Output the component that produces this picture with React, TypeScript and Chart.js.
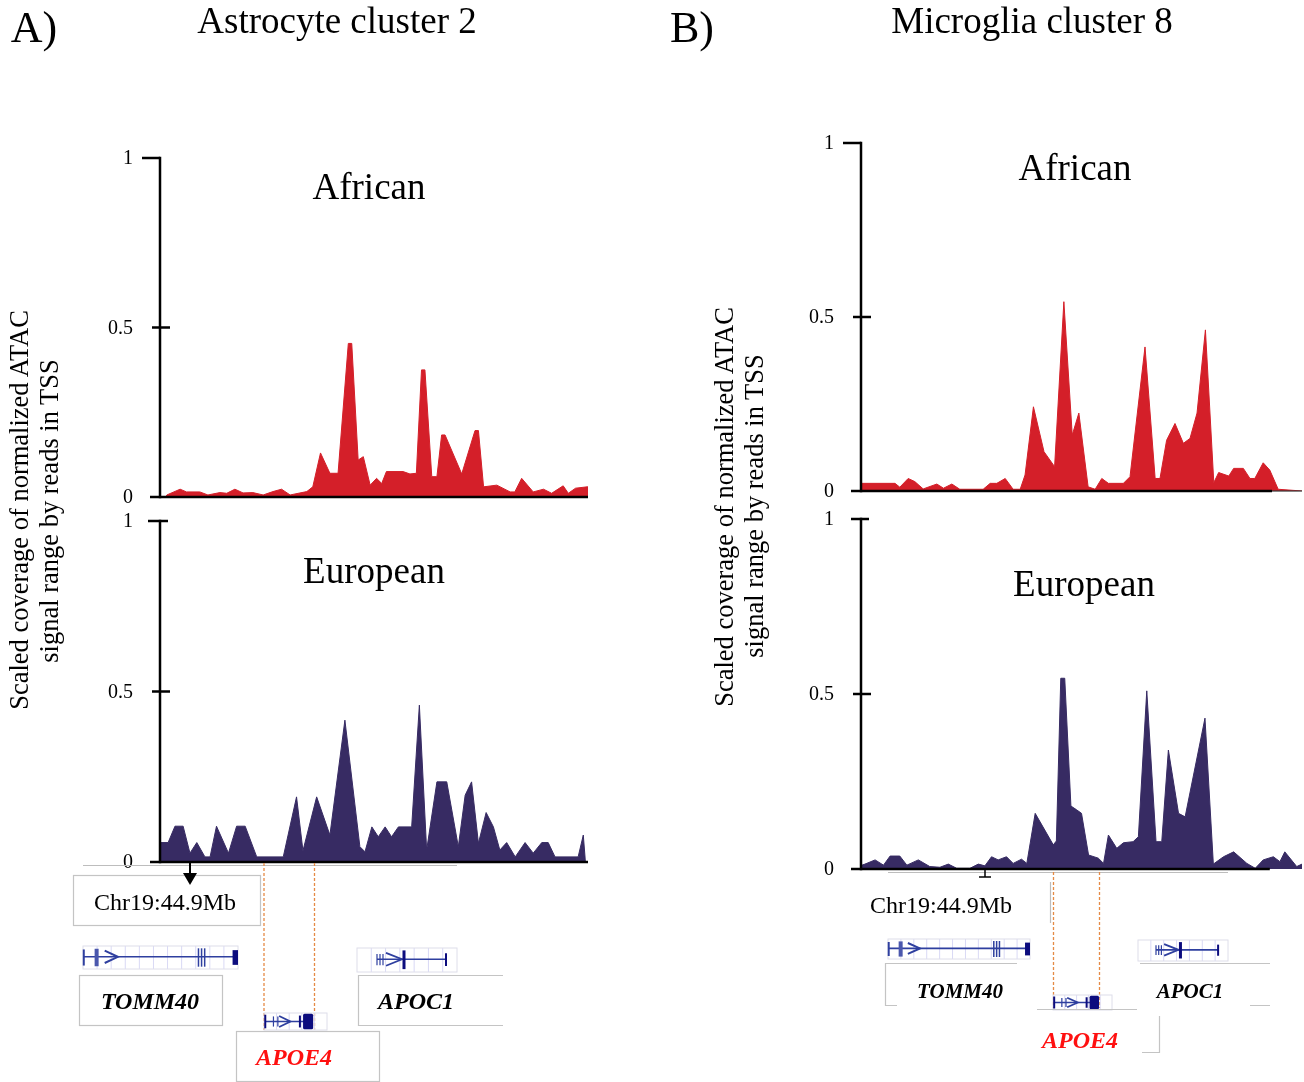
import React, { useEffect, useRef } from "react";
import { Chart, registerables } from "chart.js";
Chart.register(...registerables);

const FONT = '"Liberation Serif", "Times New Roman", serif';

// y axis ticks shared by all tracks
const yTickValues = [0, 0.5, 1];
const yTickLabels = ["0", "0.5", "1"];

// genomic window position (0-100 % of window) and scaled coverage
const astroAfrican: [number, number][] = [
  [1.4, 0], [1.6, 0.006], [4.7, 0.023], [6.2, 0.015], [9.3, 0.015], [11.2, 0.006], [14.0, 0.013],
  [15.6, 0.011], [17.5, 0.023], [19.4, 0.012], [21.7, 0.013], [24.1, 0.006], [26.4, 0.016],
  [28.4, 0.023], [30.4, 0.006], [34.3, 0.016], [35.7, 0.03], [37.5, 0.13], [39.7, 0.07], [41.6, 0.07],
  [44.0, 0.453], [44.8, 0.453], [46.3, 0.109], [47.5, 0.119], [49.1, 0.035], [50.6, 0.055],
  [51.8, 0.04], [52.9, 0.075], [56.8, 0.075], [58.4, 0.068], [59.9, 0.07], [61.1, 0.375],
  [61.9, 0.375], [63.5, 0.06], [64.7, 0.06], [65.8, 0.183], [66.6, 0.183], [70.5, 0.068],
  [73.6, 0.196], [74.4, 0.196], [75.6, 0.03], [78.7, 0.035], [81.8, 0.015], [82.9, 0.015],
  [84.5, 0.055], [87.2, 0.015], [89.6, 0.023], [91.5, 0.011], [94.2, 0.033], [95.4, 0.011],
  [97.1, 0.026], [99.8, 0.03], [100, 0.03],
];

const astroEuropean: [number, number][] = [
  [0.2, 0.057], [1.9, 0.057], [3.5, 0.105], [5.4, 0.105], [7.0, 0.026], [8.6, 0.057], [10.5, 0.015],
  [11.7, 0.015], [13.2, 0.105], [16.0, 0.026], [17.9, 0.105], [19.9, 0.105], [22.6, 0.015],
  [28.8, 0.015], [31.9, 0.191], [33.4, 0.033], [36.6, 0.191], [39.7, 0.079], [43.2, 0.416],
  [46.7, 0.045], [47.9, 0.03], [49.5, 0.103], [51.0, 0.074], [52.6, 0.103], [54.1, 0.074],
  [55.7, 0.103], [58.8, 0.103], [60.6, 0.46], [62.3, 0.035], [64.7, 0.235], [67.0, 0.235],
  [69.7, 0.045], [71.3, 0.196], [72.8, 0.235], [74.4, 0.055], [76.2, 0.145], [77.9, 0.103],
  [79.4, 0.035], [81.0, 0.057], [83.0, 0.015], [85.3, 0.057], [87.2, 0.026], [89.2, 0.057],
  [90.7, 0.057], [92.3, 0.015], [97.7, 0.015], [98.9, 0.079], [99.4, 0],
];

const microAfrican: [number, number][] = [
  [0, 0.022], [7.7, 0.022], [8.8, 0.011], [10.7, 0.036], [12.2, 0.027], [14.1, 0.006], [17.2, 0.02],
  [18.7, 0.008], [20.6, 0.02], [22.4, 0.005], [27.7, 0.005], [29.3, 0.022], [30.8, 0.022],
  [32.7, 0.036], [34.5, 0.005], [36.1, 0.005], [37.2, 0.046], [39.1, 0.242], [41.5, 0.113],
  [43.9, 0.07], [46.0, 0.544], [47.9, 0.161], [49.4, 0.224], [51.5, 0.012], [53.1, 0.005],
  [54.6, 0.036], [56.1, 0.022], [59.5, 0.022], [61.0, 0.041], [64.4, 0.414], [66.7, 0.036],
  [67.8, 0.036], [69.3, 0.146], [71.2, 0.194], [73.1, 0.137], [74.6, 0.151], [76.2, 0.224],
  [78.1, 0.463], [80.0, 0.024], [81.1, 0.053], [83.4, 0.043], [84.5, 0.065], [86.7, 0.065],
  [88.2, 0.036], [89.3, 0.036], [91.2, 0.081], [92.7, 0.06], [94.6, 0.005], [100, 0],
];

const microEuropean: [number, number][] = [
  [0, 0.01], [0.9, 0.014], [3.2, 0.026], [5.1, 0.011], [6.6, 0.037], [8.8, 0.037], [10.4, 0.011],
  [13.0, 0.026], [15.6, 0.007], [17.9, 0.005], [19.8, 0.014], [21.7, 0.002], [24.7, 0.002],
  [26.6, 0.014], [28.1, 0.009], [29.6, 0.035], [31.1, 0.026], [33.0, 0.035], [34.5, 0.016],
  [36.4, 0.028], [37.6, 0.016], [39.5, 0.159], [43.6, 0.069], [44.3, 0.08], [45.3, 0.545],
  [46.2, 0.545], [47.6, 0.18], [48.9, 0.169], [50.0, 0.159], [51.6, 0.04], [53.8, 0.031],
  [55.0, 0.016], [56.1, 0.097], [58.0, 0.059], [59.5, 0.075], [61.7, 0.078], [62.9, 0.092],
  [64.8, 0.509], [66.9, 0.078], [68.2, 0.078], [69.7, 0.34], [72.0, 0.159], [73.5, 0.149],
  [78.0, 0.431], [79.9, 0.014], [82.2, 0.035], [84.5, 0.049], [87.5, 0.016], [89.4, 0.002],
  [91.2, 0.026], [93.5, 0.035], [95.0, 0.021], [96.1, 0.049], [98.8, 0.007], [100, 0.014],
];

const RED = "#d41f29";
const NAVY = "#372b63";

const trackAxesPlugin = {
  id: "trackAxes",
  afterDatasetsDraw(chart: any, _args: any, opts: any) {
    const { ctx } = chart;
    const xs = chart.scales.x;
    const ys = chart.scales.y;
    const x0 = xs.getPixelForValue(0);
    const yb = ys.getPixelForValue(0);
    const yt = ys.getPixelForValue(1);
    ctx.save();
    ctx.strokeStyle = "#000";
    ctx.fillStyle = "#000";
    ctx.lineWidth = 2.5;
    ctx.lineCap = "butt";
    ctx.beginPath();
    ctx.moveTo(x0, yb + 1.2);
    ctx.lineTo(x0, yt - 1.2);
    ctx.stroke();
    // x axis baseline
    ctx.beginPath();
    ctx.moveTo(x0, yb);
    ctx.lineTo(xs.getPixelForValue(opts.axisEnd), yb);
    ctx.stroke();
    if (opts.thinEnd) {
      ctx.lineWidth = 1.2;
      ctx.strokeStyle = "#333";
      ctx.beginPath();
      ctx.moveTo(xs.getPixelForValue(opts.axisEnd), yb);
      ctx.lineTo(xs.getPixelForValue(100), yb);
      ctx.stroke();
      ctx.strokeStyle = "#000";
      ctx.lineWidth = 2.5;
    }
    ctx.font = `20px ${FONT}`;
    ctx.textAlign = "right";
    ctx.textBaseline = "middle";
    yTickValues.forEach((v, i) => {
      const py = ys.getPixelForValue(v);
      ctx.beginPath();
      ctx.moveTo(x0 - opts.tickLeft[i], py);
      ctx.lineTo(x0 + opts.tickRight[i], py);
      ctx.stroke();
      ctx.fillText(yTickLabels[i], x0 - 27, py + 1);
    });
    ctx.restore();
  },
};

interface TrackSpec {
  data: [number, number][];
  color: string;
  left: number;
  top: number;
  width: number;
  height: number;
  pad: { left: number; top: number; right: number; bottom: number };
  tickLeft: number[];
  tickRight: number[];
  axisEnd: number;
  thinEnd: boolean;
}

function Track({ spec }: { spec: TrackSpec }) {
  const ref = useRef<HTMLCanvasElement>(null);
  useEffect(() => {
    if (!ref.current) return;
    const chart = new Chart(ref.current, {
      type: "line",
      data: {
        datasets: [
          {
            data: spec.data.map(([x, y]) => ({ x, y })),
            borderColor: spec.color,
            backgroundColor: spec.color,
            borderWidth: 1,
            pointRadius: 0,
            tension: 0,
            fill: "origin",
          },
        ],
      },
      options: {
        animation: false,
        responsive: false,
        events: [],
        layout: { padding: spec.pad },
        plugins: {
          legend: { display: false },
          tooltip: { enabled: false },
          trackAxes: {
            tickLeft: spec.tickLeft,
            tickRight: spec.tickRight,
            axisEnd: spec.axisEnd,
            thinEnd: spec.thinEnd,
          },
        } as any,
        scales: {
          x: { type: "linear", min: 0, max: 100, display: false },
          y: { type: "linear", min: 0, max: 1, display: false },
        },
      },
      plugins: [trackAxesPlugin],
    });
    return () => chart.destroy();
  }, [spec]);
  return (
    <canvas
      ref={ref}
      width={spec.width}
      height={spec.height}
      style={{ position: "absolute", left: spec.left, top: spec.top, width: spec.width, height: spec.height }}
    />
  );
}

const tracks: TrackSpec[] = [
  {
    data: astroAfrican, color: RED, left: 90, top: 140, width: 510, height: 370,
    pad: { left: 70, top: 18, right: 12, bottom: 13 },
    tickLeft: [10, 8, 18], tickRight: [0, 10, 0], axisEnd: 100, thinEnd: false,
  },
  {
    data: astroEuropean, color: NAVY, left: 90, top: 505, width: 510, height: 370,
    pad: { left: 70, top: 16, right: 12, bottom: 13 },
    tickLeft: [10, 8, 12], tickRight: [0, 10, 8], axisEnd: 100, thinEnd: false,
  },
  {
    data: microAfrican, color: RED, left: 790, top: 125, width: 514, height: 380,
    pad: { left: 71, top: 18, right: 2, bottom: 14 },
    tickLeft: [10, 8, 18], tickRight: [0, 10, 0], axisEnd: 93.2, thinEnd: true,
  },
  {
    data: microEuropean, color: NAVY, left: 790, top: 500, width: 514, height: 385,
    pad: { left: 71, top: 19, right: 2, bottom: 16 },
    tickLeft: [10, 8, 10], tickRight: [0, 10, 8], axisEnd: 92.7, thinEnd: false,
  },
];

function Label({ x, y, size, text, style }: { x: number; y: number; size: number; text: string; style?: any }) {
  return (
    <div
      style={{
        position: "absolute",
        left: x,
        top: y,
        transform: "translate(-50%, -50%)",
        fontSize: size,
        lineHeight: 1,
        whiteSpace: "nowrap",
        fontFamily: FONT,
        color: "#000",
        ...style,
      }}
    >
      {text}
    </div>
  );
}

function VLabel({ x, y, size, text }: { x: number; y: number; size: number; text: string }) {
  return (
    <div
      style={{
        position: "absolute",
        left: x,
        top: y,
        transform: "translate(-50%, -50%) rotate(-90deg)",
        fontSize: size,
        lineHeight: 1,
        whiteSpace: "nowrap",
        fontFamily: FONT,
        color: "#000",
      }}
    >
      {text}
    </div>
  );
}

const STRIPE = "#d9d9f5";
const GLINE = "#2e3f9f";
const GDARK = "#0c0c7e";

function Stripes({ x, y, w, h, n }: { x: number; y: number; w: number; h: number; n: number }) {
  const items = [];
  for (let i = 1; i < n; i++) {
    const sx = x + (i * w) / n;
    items.push(<line key={i} x1={sx} y1={y} x2={sx} y2={y + h} stroke={STRIPE} strokeWidth={1} />);
  }
  return (
    <g>
      {items}
      <rect x={x} y={y} width={w} height={h} fill="none" stroke="#dedeea" strokeWidth={1} />
    </g>
  );
}

function Tomm40Glyph({ x, y, w, h }: { x: number; y: number; w: number; h: number }) {
  const my = y + h * 0.47;
  const X = (f: number) => x + f * w;
  return (
    <g>
      <Stripes x={x} y={y} w={w} h={h} n={11} />
      <line x1={X(0.005)} y1={my} x2={X(0.975)} y2={my} stroke={GLINE} strokeWidth={1.6} />
      <line x1={X(0.005)} y1={y + h * 0.15} x2={X(0.005)} y2={y + h * 0.85} stroke={GLINE} strokeWidth={2} />
      <rect x={X(0.075)} y={y + h * 0.12} width={4} height={h * 0.76} fill="#4a57ad" />
      <polyline points={`${X(0.14)},${y + h * 0.2} ${X(0.225)},${my} ${X(0.14)},${y + h * 0.74}`} fill="none" stroke={GLINE} strokeWidth={2} />
      {[0.745, 0.765, 0.785].map((f) => (
        <line key={f} x1={X(f)} y1={y + h * 0.1} x2={X(f)} y2={y + h * 0.9} stroke={GLINE} strokeWidth={1.5} />
      ))}
      <rect x={X(0.965)} y={y + h * 0.18} width={w * 0.035} height={h * 0.64} fill={GDARK} />
    </g>
  );
}

function Apoe4Glyph({ x, y, w, h }: { x: number; y: number; w: number; h: number }) {
  const my = y + h * 0.5;
  const X = (f: number) => x + f * w;
  return (
    <g>
      <Stripes x={x} y={y} w={w} h={h} n={5} />
      <line x1={X(0.02)} y1={my} x2={X(0.7)} y2={my} stroke={GLINE} strokeWidth={1.6} />
      <line x1={X(0.02)} y1={y + h * 0.1} x2={X(0.02)} y2={y + h * 0.9} stroke={GDARK} strokeWidth={2} />
      {[0.15, 0.22].map((f) => (
        <line key={f} x1={X(f)} y1={y + h * 0.2} x2={X(f)} y2={y + h * 0.8} stroke={GLINE} strokeWidth={1.2} />
      ))}
      <polyline points={`${X(0.24)},${y + h * 0.18} ${X(0.42)},${my} ${X(0.24)},${y + h * 0.82}`} fill="none" stroke={GLINE} strokeWidth={1.8} />
      <line x1={X(0.57)} y1={y + h * 0.15} x2={X(0.57)} y2={y + h * 0.85} stroke={GDARK} strokeWidth={2} />
      <rect x={X(0.62)} y={y + h * 0.05} width={w * 0.16} height={h * 0.9} rx={1.5} fill={GDARK} />
    </g>
  );
}

function Apoc1Glyph({ x, y, w, h }: { x: number; y: number; w: number; h: number }) {
  const my = y + h * 0.47;
  const X = (f: number) => x + f * w;
  return (
    <g>
      <Stripes x={x} y={y} w={w} h={h} n={7} />
      <line x1={X(0.2)} y1={my} x2={X(0.89)} y2={my} stroke={GLINE} strokeWidth={1.6} />
      {[0.2, 0.23, 0.26].map((f) => (
        <line key={f} x1={X(f)} y1={y + h * 0.25} x2={X(f)} y2={y + h * 0.72} stroke={GLINE} strokeWidth={1.2} />
      ))}
      <polyline points={`${X(0.29)},${y + h * 0.2} ${X(0.45)},${my} ${X(0.29)},${y + h * 0.74}`} fill="none" stroke={GLINE} strokeWidth={1.8} />
      <rect x={X(0.455)} y={y + h * 0.1} width={3} height={h * 0.78} fill={GDARK} />
      <line x1={X(0.89)} y1={y + h * 0.22} x2={X(0.89)} y2={y + h * 0.75} stroke={GDARK} strokeWidth={2} />
    </g>
  );
}

const BOX = "#c4c4c4";
const ORANGE = "#e58a45";

function Annotations() {
  return (
    <svg width={1304} height={1082} style={{ position: "absolute", left: 0, top: 0, pointerEvents: "none" }}>
      {/* Panel A gene track */}
      <line x1={83} y1={865.5} x2={457} y2={865.5} stroke="#bdbdbd" strokeWidth={1.2} />
      <rect x={73.5} y={875.5} width={187} height={50} fill="#fff" stroke={BOX} strokeWidth={1.2} />
      <line x1={190} y1={863} x2={190} y2={876} stroke="#000" strokeWidth={2} />
      <polygon points="183,873 197,873 190,885" fill="#000" />
      <line x1={264} y1={863} x2={264} y2={1030} stroke={ORANGE} strokeWidth={1.3} strokeDasharray="3 2" />
      <line x1={314.5} y1={863} x2={314.5} y2={1030} stroke={ORANGE} strokeWidth={1.3} strokeDasharray="3 2" />
      <Tomm40Glyph x={83} y={946} w={155} h={23} />
      <rect x={79.5} y={975.5} width={143} height={50} fill="none" stroke={BOX} strokeWidth={1.2} />
      <Apoc1Glyph x={357} y={948} w={100} h={24} />
      <path d="M503 975.5 H358.5 V1025.5 H503" fill="none" stroke={BOX} strokeWidth={1.2} />
      <Apoe4Glyph x={264} y={1013} w={63} h={17} />
      <rect x={236.5} y={1031.5} width={143} height={50} fill="none" stroke={BOX} strokeWidth={1.2} />

      {/* Panel B gene track */}
      <line x1={888} y1={872.5} x2={1228} y2={872.5} stroke="#bdbdbd" strokeWidth={1.2} />
      <line x1={985} y1={869} x2={985} y2={877} stroke="#000" strokeWidth={1.5} />
      <line x1={979} y1={877} x2={991} y2={877} stroke="#000" strokeWidth={1.5} />
      <line x1={1050.5} y1={882} x2={1050.5} y2={923} stroke="#bdbdbd" strokeWidth={1.2} />
      <line x1={1053.5} y1={872} x2={1053.5} y2={1008} stroke={ORANGE} strokeWidth={1.3} strokeDasharray="3 2" />
      <line x1={1099.5} y1={872} x2={1099.5} y2={1008} stroke={ORANGE} strokeWidth={1.3} strokeDasharray="3 2" />
      <Tomm40Glyph x={888} y={939} w={142} h={20} />
      <path d="M1017 963.5 H885.5 V1005.5 H897" fill="none" stroke={BOX} strokeWidth={1.2} />
      <Apoc1Glyph x={1138} y={940} w={90} h={21} />
      <path d="M1140 963.5 H1270 M1250 1005.5 H1270" fill="none" stroke={BOX} strokeWidth={1.2} />
      <Apoe4Glyph x={1053} y={995} w={59} h={15} />
      <path d="M1037 1009.5 H1137 M1159.5 1016 V1052.5 H1142" fill="none" stroke={BOX} strokeWidth={1.2} />
    </svg>
  );
}

const geneStyle = { fontWeight: "bold", fontStyle: "italic" };

export default function App() {
  return (
    <div
      style={{
        position: "absolute",
        left: 0,
        top: 0,
        width: 1304,
        height: 1082,
        background: "#fff",
        overflow: "hidden",
        fontFamily: FONT,
      }}
    >
      {tracks.map((t, i) => (
        <Track key={i} spec={t} />
      ))}
      <Annotations />

      <Label x={34} y={28} size={44} text="A)" />
      <Label x={337} y={20} size={37} text="Astrocyte cluster 2" />
      <Label x={692} y={28} size={44} text="B)" />
      <Label x={1032} y={20} size={37} text="Microglia cluster 8" />

      <Label x={369} y={186} size={37} text="African" />
      <Label x={374} y={570} size={37} text="European" />
      <Label x={1075} y={167} size={37} text="African" />
      <Label x={1084} y={583} size={37} text="European" />

      <VLabel x={19} y={510} size={26.5} text="Scaled coverage of normalized ATAC" />
      <VLabel x={49} y={511} size={26.5} text="signal range by reads in TSS" />
      <VLabel x={724} y={507} size={26.5} text="Scaled coverage of normalized ATAC" />
      <VLabel x={754} y={506} size={26.5} text="signal range by reads in TSS" />

      <Label x={165} y={902} size={24} text="Chr19:44.9Mb" />
      <Label x={941} y={905} size={24} text="Chr19:44.9Mb" />

      <Label x={150} y={1001} size={24} text="TOMM40" style={geneStyle} />
      <Label x={416} y={1001} size={24} text="APOC1" style={geneStyle} />
      <Label x={294} y={1057} size={24} text="APOE4" style={{ ...geneStyle, color: "#ff1010" }} />

      <Label x={960} y={991} size={21} text="TOMM40" style={geneStyle} />
      <Label x={1190} y={991} size={21} text="APOC1" style={geneStyle} />
      <Label x={1080} y={1040} size={24} text="APOE4" style={{ ...geneStyle, color: "#ff1010" }} />
    </div>
  );
}
